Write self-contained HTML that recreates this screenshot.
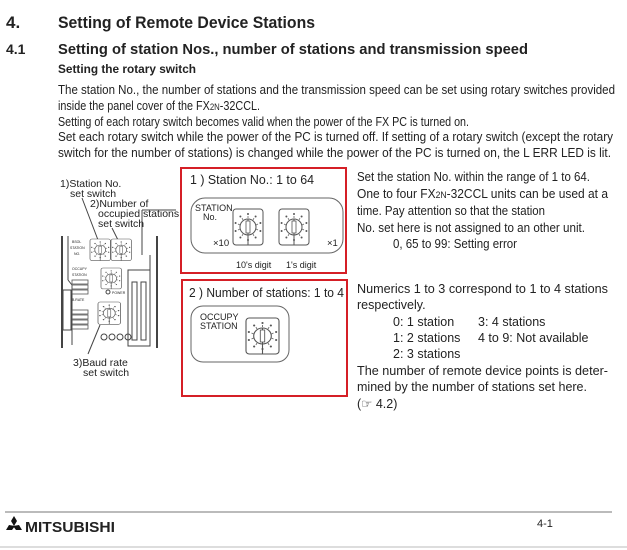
<!DOCTYPE html>
<html><head><meta charset="utf-8"><style>
html,body{margin:0;padding:0;background:#fff;}
svg{display:block;}
text{font-family:"Liberation Sans",Arial,sans-serif;fill:#222;}
</style></head><body>
<svg width="627" height="550" viewBox="0 0 627 550" xmlns="http://www.w3.org/2000/svg">
<defs>
<g id="dial">
  <rect x="0" y="0" width="30" height="36" rx="3" fill="#fff" stroke="#555" stroke-width="1"/>
  <circle cx="15" cy="18" r="8" fill="none" stroke="#555" stroke-width="1"/>
  <line x1="15" y1="10" x2="15" y2="36" stroke="#555" stroke-width="1"/>
  <rect x="13" y="12" width="4" height="12" fill="#fff" stroke="#555" stroke-width="0.8"/>
  <g fill="#555">
    <circle cx="15" cy="5" r="1"/><circle cx="22.6" cy="7.5" r="1"/><circle cx="27.4" cy="14" r="1"/>
    <circle cx="27.4" cy="22" r="1"/><circle cx="22.6" cy="28.5" r="1"/><circle cx="15" cy="31" r="1"/>
    <circle cx="7.4" cy="28.5" r="1"/><circle cx="2.6" cy="22" r="1"/><circle cx="2.6" cy="14" r="1"/>
    <circle cx="7.4" cy="7.5" r="1"/>
  </g>
  <g stroke="#666" stroke-width="0.8">
    <line x1="15" y1="7" x2="15" y2="9"/><line x1="21" y1="9" x2="20" y2="11"/><line x1="25" y1="15" x2="23" y2="16"/>
    <line x1="25" y1="21" x2="23" y2="20"/><line x1="21" y1="27" x2="20" y2="25"/><line x1="9" y1="27" x2="10" y2="25"/>
    <line x1="5" y1="21" x2="7" y2="20"/><line x1="5" y1="15" x2="7" y2="16"/><line x1="9" y1="9" x2="10" y2="11"/>
  </g>
</g>
</defs>

<!-- Headings -->
<text x="6" y="28" font-size="17" font-weight="bold">4.</text>
<text x="58" y="28" font-size="17" font-weight="bold" textLength="257" lengthAdjust="spacingAndGlyphs">Setting of Remote Device Stations</text>
<text x="6" y="54" font-size="14" font-weight="bold">4.1</text>
<text x="58" y="54" font-size="14.5" font-weight="bold" textLength="470" lengthAdjust="spacingAndGlyphs">Setting of station Nos., number of stations and transmission speed</text>
<text x="58" y="73" font-size="12" font-weight="bold" textLength="138" lengthAdjust="spacingAndGlyphs">Setting the rotary switch</text>

<g font-size="12.5">
<text x="58" y="94" textLength="557" lengthAdjust="spacingAndGlyphs">The station No., the number of stations and the transmission speed can be set using rotary switches provided</text>
<text x="58" y="110" textLength="202" lengthAdjust="spacingAndGlyphs">inside the panel cover of the FX<tspan font-size="9">2N</tspan>-32CCL.</text>
<text x="58" y="126" textLength="411" lengthAdjust="spacingAndGlyphs">Setting of each rotary switch becomes valid when the power of the FX PC is turned on.</text>
<text x="58" y="141" textLength="555" lengthAdjust="spacingAndGlyphs">Set each rotary switch while the power of the PC is turned off. If setting of a rotary switch (except the rotary</text>
<text x="58" y="157" textLength="553" lengthAdjust="spacingAndGlyphs">switch for the number of stations) is changed while the power of the PC is turned on, the L ERR LED is lit.</text>
</g>

<!-- Left device diagram -->
<g font-size="10.5">
<text x="60" y="187">1)Station No.</text>
<text x="70" y="197">set switch</text>
<text x="90" y="207">2)Number of</text>
<text x="98" y="217">occupied stations</text>
<text x="98" y="227">set switch</text>
<text x="73" y="366">3)Baud rate</text>
<text x="83" y="376">set switch</text>
</g>
<g stroke="#444" fill="none" stroke-width="1">
  <line x1="82" y1="198" x2="98" y2="240"/>
  <line x1="112" y1="228" x2="118" y2="240"/>
  <line x1="176" y1="210" x2="142" y2="210"/>
  <line x1="142" y1="210" x2="142" y2="255"/>
  <line x1="100" y1="325" x2="88" y2="354"/>
  <line x1="62" y1="236" x2="62" y2="348" stroke-width="2"/>
  <line x1="157" y1="236" x2="157" y2="348" stroke-width="2"/>
  <line x1="68" y1="236" x2="68" y2="280"/>
  <line x1="68" y1="280" x2="72" y2="285"/><line x1="72" y1="285" x2="72" y2="345"/>
  <rect x="63" y="290" width="8" height="40"/>
  <rect x="128" y="270" width="22" height="76"/>
  <rect x="132" y="282" width="5" height="58"/><rect x="141" y="282" width="5" height="58"/>
  <line x1="150" y1="255" x2="150" y2="270"/>
  <circle cx="104" cy="337" r="3"/><circle cx="112" cy="337" r="3"/><circle cx="120" cy="337" r="3"/><circle cx="128" cy="337" r="3"/>
  <circle cx="108" cy="292" r="2"/>
</g>
<g transform="translate(90,239) scale(0.68,0.6)"><use href="#dial"/></g>
<g transform="translate(111,239) scale(0.68,0.6)"><use href="#dial"/></g>
<g transform="translate(101,268) scale(0.68,0.58)"><use href="#dial"/></g>
<g transform="translate(98,302) scale(0.75,0.62)"><use href="#dial"/></g>
<g font-size="3.5" fill="#555">
  <text x="72" y="243">BSOL</text><text x="70" y="249">STATION</text><text x="74" y="255">NO.</text>
  <text x="72" y="270">OCCUPY</text><text x="72" y="276">STATION</text>
  <text x="72" y="301">B.RATE</text><text x="112" y="294">POWER</text>
</g>
<g stroke="#555" stroke-width="0.8" fill="none">
  <rect x="72" y="280" width="16" height="4"/><rect x="72" y="285" width="16" height="4"/><rect x="72" y="290" width="16" height="4"/>
  <rect x="72" y="310" width="16" height="4"/><rect x="72" y="315" width="16" height="4"/><rect x="72" y="320" width="16" height="4"/><rect x="72" y="325" width="16" height="4"/>
</g>

<!-- Box 1 -->
<rect x="181" y="168" width="165" height="105" fill="none" stroke="#d51f26" stroke-width="2"/>
<text x="190" y="184" font-size="13" textLength="124" lengthAdjust="spacingAndGlyphs">1 )   Station No.: 1 to 64</text>
<rect x="191" y="198" width="152" height="55" rx="14" fill="none" stroke="#666" stroke-width="1"/>
<text x="195" y="211" font-size="9">STATION</text>
<text x="203" y="220" font-size="9">No.</text>
<text x="213" y="246" font-size="9.5">×10</text>
<text x="327" y="246" font-size="9.5">×1</text>
<g transform="translate(233,209)"><use href="#dial"/></g>
<g transform="translate(279,209)"><use href="#dial"/></g>
<text x="236" y="268" font-size="9">10's digit</text>
<text x="286" y="268" font-size="9">1's digit</text>

<!-- Box 2 -->
<rect x="182" y="280" width="165" height="116" fill="none" stroke="#d51f26" stroke-width="2"/>
<text x="189" y="297" font-size="13" textLength="155" lengthAdjust="spacingAndGlyphs">2 )   Number of stations: 1 to 4</text>
<rect x="191" y="306" width="98" height="56" rx="12" fill="none" stroke="#666" stroke-width="1"/>
<text x="200" y="320" font-size="9">OCCUPY</text>
<text x="200" y="329" font-size="9">STATION</text>
<g transform="translate(246,318) scale(1.1,1)"><use href="#dial"/></g>

<!-- Right text -->
<g font-size="12.5">
<text x="357" y="181" textLength="233" lengthAdjust="spacingAndGlyphs">Set the station No. within the range of 1 to 64.</text>
<text x="357" y="198" textLength="251" lengthAdjust="spacingAndGlyphs">One to four FX<tspan font-size="9">2N</tspan>-32CCL units can be used at a</text>
<text x="357" y="215" textLength="188" lengthAdjust="spacingAndGlyphs">time. Pay attention so that the station</text>
<text x="357" y="232" textLength="228" lengthAdjust="spacingAndGlyphs">No. set here is not assigned to an other unit.</text>
<text x="393" y="248" textLength="124" lengthAdjust="spacingAndGlyphs">0, 65 to 99: Setting error</text>

<text x="357" y="293" textLength="251" lengthAdjust="spacingAndGlyphs">Numerics 1 to 3 correspond to 1 to 4 stations</text>
<text x="357" y="309">respectively.</text>
<text x="393" y="326">0: 1 station</text>
<text x="478" y="326">3: 4 stations</text>
<text x="393" y="342">1: 2 stations</text>
<text x="478" y="342">4 to 9: Not available</text>
<text x="393" y="358">2: 3 stations</text>
<text x="357" y="375" textLength="251" lengthAdjust="spacingAndGlyphs">The number of remote device points is deter-</text>
<text x="357" y="391" textLength="230" lengthAdjust="spacingAndGlyphs">mined by the number of stations set here.</text>
<text x="357" y="408">(☞ 4.2)</text>
</g>

<!-- Footer -->
<line x1="5" y1="512" x2="612" y2="512" stroke="#777" stroke-width="1"/>
<g fill="#111">
  <polygon points="14,516 11,521 14,526 17,521"/>
  <polygon points="9,525 6,530 12,530 15,526"/>
  <polygon points="19,525 22,530 16,530 13,526"/>
</g>
<text x="25" y="532" font-size="15" font-weight="bold" textLength="90" lengthAdjust="spacingAndGlyphs" fill="#111">MITSUBISHI</text>
<text x="537" y="527" font-size="11">4-1</text>
<line x1="0" y1="547" x2="627" y2="547" stroke="#bbb" stroke-width="1"/>
</svg>
</body></html>
